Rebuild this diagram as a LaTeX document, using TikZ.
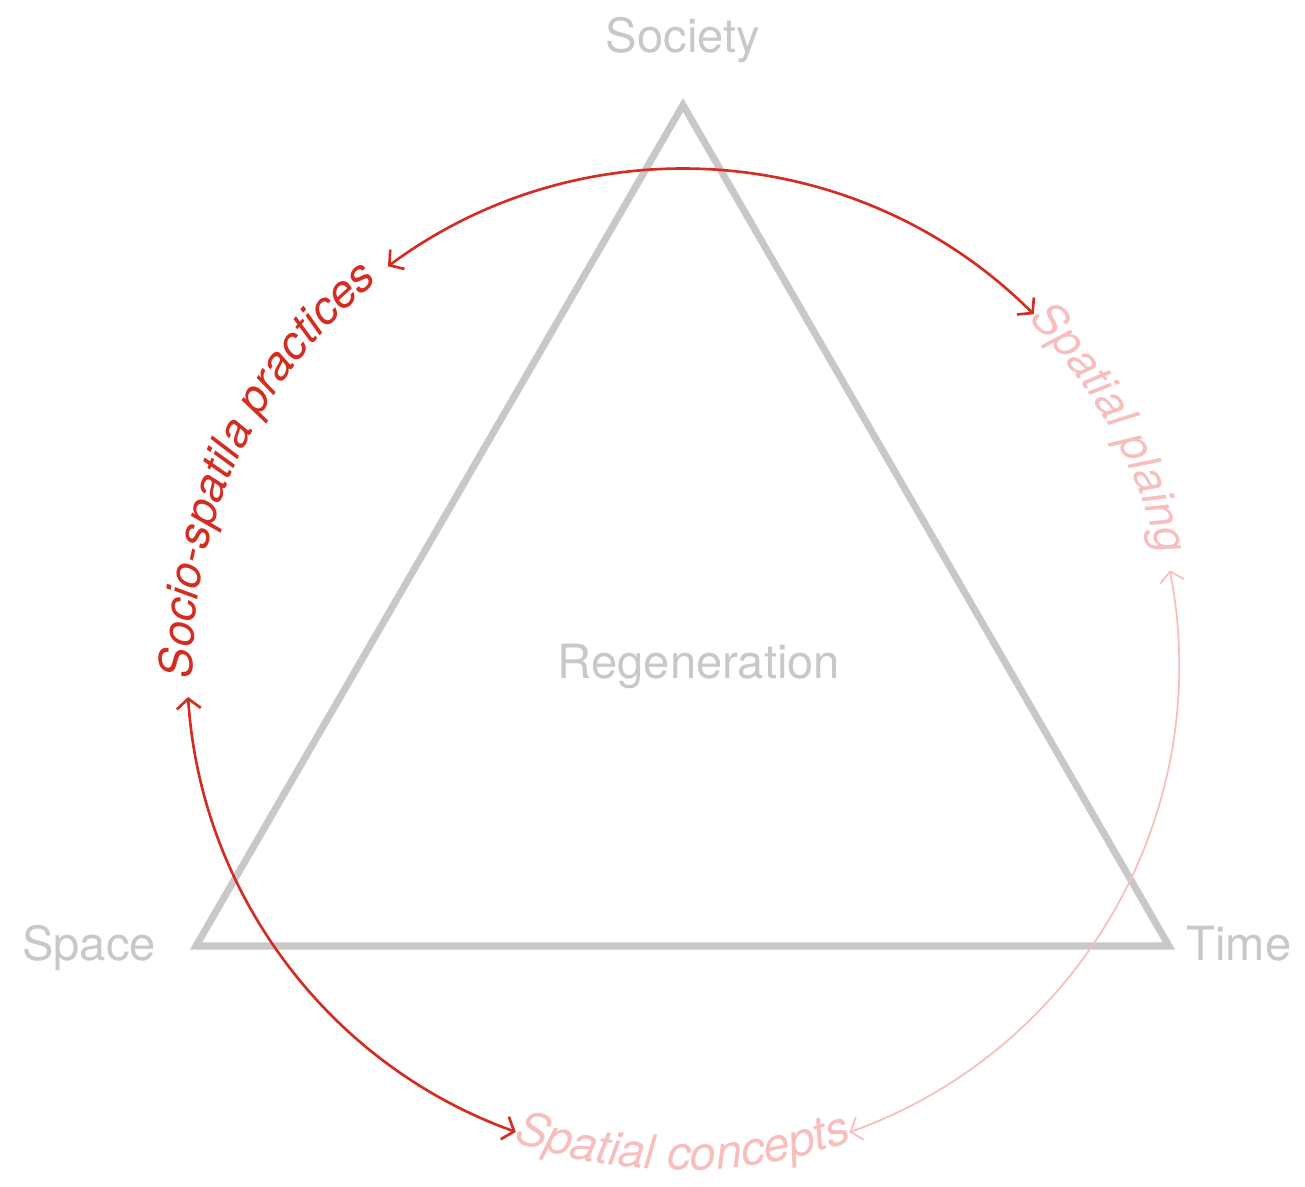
\documentclass[tikz,border=0pt]{standalone}
\usepackage{fontspec}
\setmainfont{TeX Gyre Heros}
\usetikzlibrary{arrows.meta, calc, decorations.text}
\definecolor{cGrayTri}{RGB}{200,200,200}
\definecolor{cRed}{RGB}{212,44,32}
\definecolor{cPink}{RGB}{248,190,190}
\newcommand{\arcfont}{\fontsize{13.4pt}{16pt}\selectfont\itshape}
\newcommand{\arcfontsm}{\fontsize{12.9pt}{16pt}\selectfont\itshape}
\tikzset{
	tri/.style      ={draw=cGrayTri, line width=2pt, line join=miter},
	cornerlbl/.style={text=cGrayTri, inner sep=0pt, anchor=base},
	cycarrow/.style ={{Straight Barb[length=1mm,width=2.4mm]}-{Straight Barb[length=1mm,width=2.4mm]}},
	redloop/.style  ={cycarrow, draw=cRed, line width=0.75pt},
	pinkloop/.style ={cycarrow, draw=cPink, line width=0.5pt},
	arclbl/.style   ={decorate, decoration={text along path, text align=center, text color=#1}},
}
\begin{document}
\begin{tikzpicture}[x=0.01cm, y=0.01cm, font=\fontsize{13.4pt}{16pt}\selectfont]
	\useasboundingbox (0,0) rectangle (1305,1187);
	\coordinate (c) at (683,522);
	% triangle
	\coordinate (soc) at (683,1082);
	\coordinate (spa) at (196,241);
	\coordinate (tim) at (1169,241);
	\draw[tri] (soc) -- (spa) -- (tim) -- cycle;
	\node[cornerlbl] (socLbl) at (683,1134) {Society};
	\node[cornerlbl] (spaLbl) at (89,226) {Space};
	\node[cornerlbl] (timLbl) at (1239,226) {Time};
	\node[cornerlbl] (regLbl) at (699,508) {Regeneration};
	% loop of the three moments
	\coordinate (pracTop) at ($(c)+(126.5:496)$);
	\coordinate (planTop) at ($(c)+(45:496)$);
	\coordinate (pracBot) at ($(c)+(183.7:496)$);
	\coordinate (concL)   at ($(c)+(250.3:496)$);
	\coordinate (planBot) at ($(c)+(11:496)$);
	\coordinate (concR)   at ($(c)+(-70.4:496)$);
	\draw[redloop] (pracTop) arc[start angle=126.5, end angle=45, radius=496];
	\draw[redloop] (pracBot) arc[start angle=183.7, end angle=250.3, radius=496];
	\draw[pinkloop] (planBot) arc[start angle=11, end angle=-70.4, radius=496];
	\path[arclbl=cRed, decoration={text={|\arcfontsm|Socio-spatila practices}}]
		($(c)+(199:490)$) arc[start angle=199, end angle=111, radius=490];
	\path[arclbl=cPink, decoration={text={|\arcfontsm|Spatial plaing}}]
		($(c)+(59:488)$) arc[start angle=59, end angle=-1, radius=488];
	\path[arclbl=cPink, decoration={text={|\arcfont|Spatial concepts}}]
		($(c)+(225:505)$) arc[start angle=225, end angle=315, radius=505];
\end{tikzpicture}
\end{document}
